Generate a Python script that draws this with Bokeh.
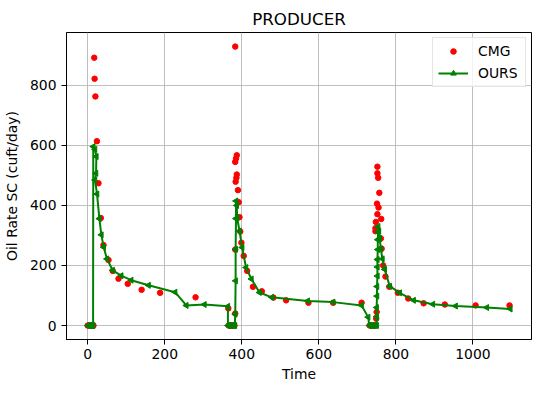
import math
from bokeh.plotting import figure
from bokeh.models import Range1d, FixedTicker, Legend, LegendItem
from bokeh.embed import file_html
from bokeh.resources import INLINE

# ---- data ----
cmg_t = [0, 3, 6, 9, 12, 15,
         17, 18, 20, 24, 28, 34, 41, 54, 65, 80, 104, 140, 188, 280, 365,
         366, 369, 372, 375, 378, 381,
         383, 383, 383, 387, 385, 383, 387, 386, 384, 390, 392, 394, 396, 399,
         405, 414, 429, 452, 482, 515, 573, 637, 711,
         732, 735, 738, 741, 744, 747,
         749, 750, 748, 747, 747, 751, 752, 752, 754, 757, 755, 752, 762, 761,
         763, 767, 773, 783, 805, 832, 872, 927, 1007, 1095]
cmg_q = [0, 0, 0, 0, 0, 0,
         892, 822, 763, 614, 474, 358, 268, 218, 182, 156, 139, 119, 109, 94, 57,
         0, 0, 0, 0, 0, 0,
         40, 253, 929, 567, 556, 545, 503, 492, 479, 451, 411, 361, 313, 276,
         232, 182, 129, 114, 93, 84, 76, 76, 76,
         0, 0, 0, 0, 0, 0,
         23, 45, 345, 324, 314, 406, 529, 507, 492, 442, 393, 371, 355, 290,
         256, 200, 163, 129, 109, 90, 74, 70, 67, 67]

ours_t = [0, 3, 6, 9, 12, 14, 14.5,
          19, 22.5, 21.7, 19, 24.3, 30.3, 35.5, 41.5, 50, 64.8, 87, 113, 158,
          227, 256, 303, 364,
          364, 367, 371, 375, 379, 382,
          383, 384, 384, 385, 385, 387, 388, 394, 401, 411, 425, 446, 478,
          571, 637, 711, 728,
          731, 735, 739, 743, 747, 750,
          750, 750, 751, 751, 752, 752, 752, 753, 753, 754, 754,
          756, 758, 761, 765, 771, 784, 810, 846, 896, 955, 1036, 1097]
ours_q = [0, 0, 0, 0, 0, 0, 596,
          587, 563, 507, 485, 438, 356, 302, 261, 222, 184, 166, 151, 134,
          111, 67, 70, 64,
          0, 0, 0, 0, 0, 0,
          38, 149, 254, 356, 415, 400, 359, 315, 260, 193, 155, 110, 94,
          82, 78, 67, 28,
          0, 0, 0, 0, 0, 0,
          30, 60, 98, 130, 165, 195, 220, 253, 286, 310, 330,
          315, 290, 255, 222, 187, 131, 109, 84, 71, 65, 60, 55]

x_ticks = [0, 200, 400, 600, 800, 1000]
y_ticks = [0, 200, 400, 600, 800]

FONT = "DejaVu Sans"

p = figure(frame_width=465, frame_height=307, output_backend="svg",
           toolbar_location=None,
           x_range=Range1d(-55, 1152), y_range=Range1d(-46.5, 976),
           min_border_left=58, min_border_right=1, min_border_top=32,
           min_border_bottom=44)

p.title.text = "PRODUCER"
p.title.text_font = FONT
p.title.text_font_size = "16.7px"
p.title.text_font_style = "normal"
p.title.text_color = "black"
p.title.align = "center"
p.title.standoff = 8

p.outline_line_color = "black"
p.outline_line_alpha = 1.0
p.outline_line_width = 1

for ax in (p.xaxis, p.yaxis):
    ax.major_label_text_font = FONT
    ax.major_label_text_font_size = "13.9px"
    ax.axis_label_text_font = FONT
    ax.axis_label_text_font_size = "13.9px"
    ax.axis_label_text_font_style = "normal"
    ax.axis_label_text_color = "black"
    ax.major_tick_out = 5
    ax.major_tick_in = 0
    ax.minor_tick_line_color = None
    ax.axis_line_color = "black"
    ax.major_tick_line_color = "black"
    ax.major_label_text_color = "black"

p.xaxis.ticker = FixedTicker(ticks=x_ticks)
p.yaxis.ticker = FixedTicker(ticks=y_ticks)
p.xaxis.axis_label = "Time"
p.yaxis.axis_label = "Oil Rate SC (cuft/day)"
p.xaxis.major_label_standoff = 4
p.xaxis.axis_label_standoff = 4
p.yaxis.major_label_standoff = 5
p.yaxis.axis_label_standoff = 7

p.grid.grid_line_color = "#b0b0b0"
p.grid.grid_line_width = 0.8
p.xgrid.ticker = FixedTicker(ticks=x_ticks)
p.ygrid.ticker = FixedTicker(ticks=y_ticks)

r_cmg = p.scatter(cmg_t, cmg_q, size=5.5, color="#ff0000", marker="circle")
r_line = p.line(ours_t, ours_q, line_color="#008000", line_width=2)
r_mk = p.scatter(ours_t, ours_q, marker="triangle", angle=math.pi / 2,
                 size=6, color="#008000")

legend = Legend(items=[LegendItem(label="CMG", renderers=[r_cmg]),
                       LegendItem(label="OURS", renderers=[r_line, r_mk])],
                location="top_right")
legend.label_text_font = FONT
legend.label_text_font_size = "13.9px"
legend.label_text_color = "black"
legend.glyph_width = 30
legend.glyph_height = 14
legend.label_height = 14
legend.label_width = 42
legend.label_standoff = 10
legend.padding = 5
legend.spacing = 6
legend.margin = 5
legend.border_line_color = "#cccccc"
legend.border_line_width = 1
legend.background_fill_alpha = 0.8
p.add_layout(legend)

open("out.html", "w").write(file_html(p, INLINE))
